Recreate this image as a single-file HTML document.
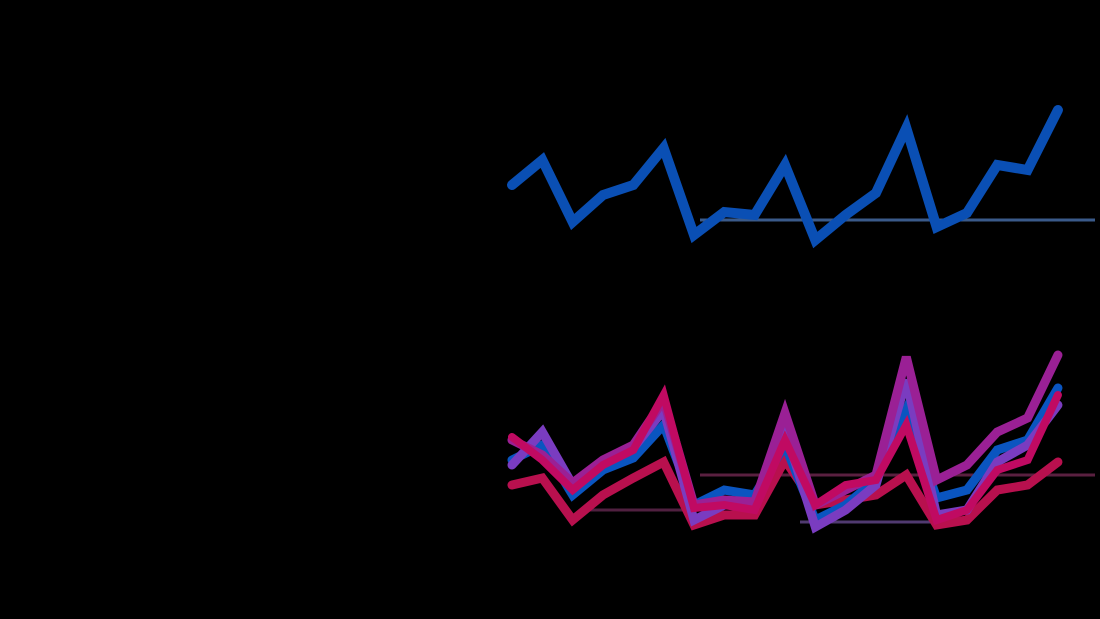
<!DOCTYPE html>
<html><head><meta charset="utf-8"><style>
html,body{margin:0;padding:0;background:#000;}
svg{display:block;}
</style></head><body>
<svg id="chart" width="1100" height="619" viewBox="0 0 1100 619">
<rect width="1100" height="619" fill="#000"/>
<g id="refs"></g>
<g id="top"></g>
<g id="bottom"></g>
</svg>
<script>
const categories = [1,2,3,4,5,6,7,8,9,10,11,12,13,14,15,16,17,18,19];
const topSeries = [415,440,378,405,415,452,365,388,385,435,360,385,407,472,373,387,435,430,490];
const seriesBlue = [140,155,105,130,142,175,95,110,105,155,80,95,120,190,102,110,150,160,212];
const seriesViolet = [135,168,115,138,152,190,80,95,95,170,73,90,115,220,85,90,138,155,195];
const seriesPurple = [160,145,117,140,155,200,95,100,98,187,95,110,125,243,120,135,168,182,245];
const seriesCrimson = [163,140,110,135,150,205,92,95,90,160,95,115,120,175,80,90,130,140,205];
const seriesRed = [115,122,80,105,122,138,75,85,85,140,95,100,105,125,75,80,110,115,138];

const SVGNS='http://www.w3.org/2000/svg';
function xScale(i){return 512 + i*30.33;}
function yScale(v){return 600 - v;}
function draw(groupId, values, color, name, width){
  const g=document.getElementById(groupId);
  const p=document.createElementNS(SVGNS,'polyline');
  p.setAttribute('points', values.map((v,i)=>xScale(i)+','+yScale(v)).join(' '));
  p.setAttribute('fill','none');
  p.setAttribute('stroke',color);
  p.setAttribute('stroke-width',width);
  p.setAttribute('stroke-linejoin','miter');
  p.setAttribute('stroke-linecap','round');
  
  
  g.appendChild(p);
}
const refs=document.getElementById('refs');
[[700,1095,220,'#3a5a8a'],[700,1095,475,'#5a2040'],[580,700,510,'#502040'],[800,940,522,'#503a70']].forEach(r=>{
  const l=document.createElementNS(SVGNS,'line');
  l.setAttribute('x1',r[0]);l.setAttribute('x2',r[1]);l.setAttribute('y1',r[2]);l.setAttribute('y2',r[2]);
  l.setAttribute('stroke',r[3]);l.setAttribute('stroke-width',3);
  
  
  refs.appendChild(l);
});
draw('top', topSeries, '#0a4fb4', 'top-series-line', 10);
draw('bottom', seriesRed, '#b8104e', 'series-red-line', 9);
draw('bottom', seriesBlue, '#0a55c0', 'series-blue-line', 9);
draw('bottom', seriesViolet, '#7a3cc0', 'series-violet-line', 9);
draw('bottom', seriesPurple, '#9a2095', 'series-purple-line', 9);
draw('bottom', seriesCrimson, '#c00a62', 'series-crimson-line', 8);
</script>
</body></html>
